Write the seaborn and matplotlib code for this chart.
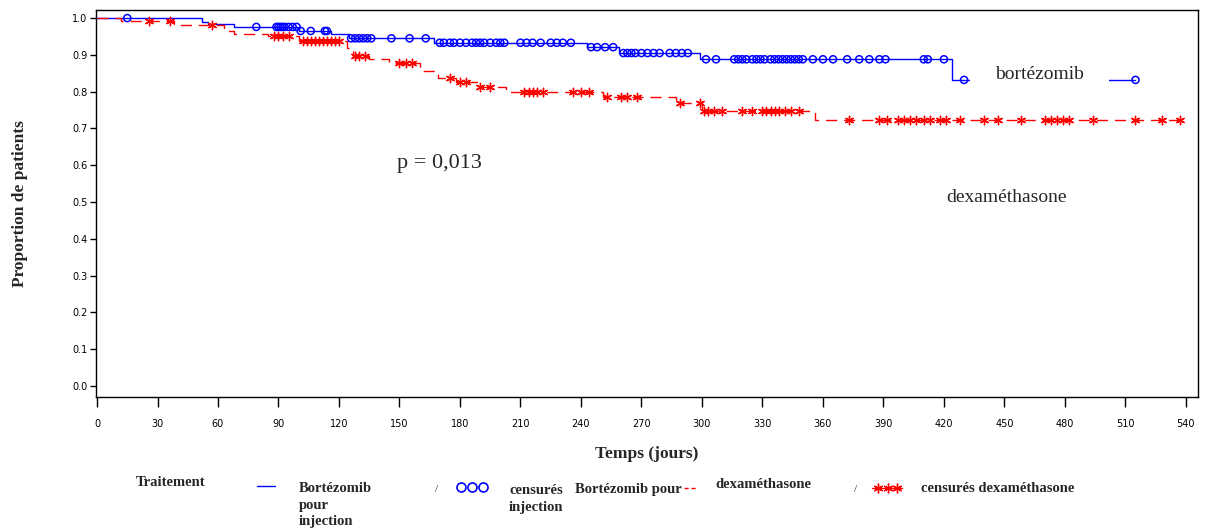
import numpy as np
import pandas as pd
import matplotlib
matplotlib.use("Agg")
import matplotlib.pyplot as plt
import seaborn as sns
from matplotlib.lines import Line2D

# ---- data ----
bort_times = [0, 52, 55, 68, 100, 116, 125, 167, 243, 259, 299, 424, 515]
bort_surv = [1.0, 0.99, 0.984, 0.976, 0.965, 0.956, 0.945, 0.933, 0.921, 0.905, 0.888, 0.832, 0.832]
bort_censor = [15, 79, 89, 90, 91, 92, 93, 95, 97, 99, 101, 106, 113, 114, 126, 128, 130, 132,
               134, 136, 146, 155, 163, 170, 172, 175, 177, 180, 183, 186, 188, 190, 192, 195,
               198, 200, 202, 210, 213, 216, 220, 225, 228, 231, 235, 245, 248, 252, 256, 261,
               263, 265, 267, 270, 273, 276, 279, 284, 287, 290, 293, 302, 307, 316, 318, 320,
               322, 325, 327, 329, 331, 334, 336, 338, 340, 342, 344, 346, 348, 350, 355, 360,
               365, 372, 378, 383, 388, 391, 410, 412, 420, 430, 515]

dexa_times = [0, 12, 38, 63, 68, 85, 100, 124, 127, 135, 145, 160, 169, 178, 189, 203, 251, 287,
              300, 356, 537]
dexa_surv = [1.0, 0.991, 0.981, 0.966, 0.958, 0.95, 0.937, 0.918, 0.897, 0.89, 0.877, 0.856,
             0.838, 0.825, 0.813, 0.80, 0.786, 0.769, 0.748, 0.722, 0.722]
dexa_censor = [26, 36, 57, 88, 90, 92, 95, 102, 104, 106, 108, 110, 112, 114, 116, 118, 120, 128,
               130, 133, 150, 153, 156, 175, 180, 183, 190, 195, 212, 214, 216, 218, 221, 236,
               240, 244, 253, 260, 263, 268, 289, 299, 301, 303, 306, 310, 320, 325, 330, 332,
               334, 336, 338, 341, 344, 348, 373, 388, 392, 397, 400, 403, 406, 410, 413, 418,
               421, 428, 440, 447, 458, 470, 473, 476, 479, 482, 494, 515, 528, 537]

x_ticks = list(range(0, 541, 30))
y_ticks = [0.0, 0.1, 0.2, 0.3, 0.4, 0.5, 0.6, 0.7, 0.8, 0.9, 1.0]

BLUE = "#0000FF"
RED = "#FF0000"

sns.set_style("ticks")
plt.rcParams["font.family"] = ["DejaVu Sans"]

fig = plt.figure(figsize=(12.11, 5.32), dpi=100)
ax = fig.add_axes([96 / 1211, 1 - 397 / 532, (1198 - 96) / 1211, (397 - 10) / 532])


def step_value(times, surv, t):
    i = np.searchsorted(np.asarray(times), t, side="right") - 1
    return np.asarray(surv)[max(i, 0)]


bort_df = pd.DataFrame({"t": bort_times, "s": bort_surv})
dexa_df = pd.DataFrame({"t": dexa_times, "s": dexa_surv})
bort_c = pd.DataFrame({"t": bort_censor,
                       "s": [step_value(bort_times, bort_surv, t) for t in bort_censor]})
dexa_c = pd.DataFrame({"t": dexa_censor,
                       "s": [step_value(dexa_times, dexa_surv, t) for t in dexa_censor]})

sns.lineplot(data=bort_df, x="t", y="s", ax=ax, color=BLUE, lw=1.0, drawstyle="steps-post",
             estimator=None, sort=False, zorder=2)
sns.lineplot(data=dexa_df, x="t", y="s", ax=ax, color=RED, lw=1.0, drawstyle="steps-post",
             estimator=None, sort=False, zorder=2, dashes=False)
ax.lines[-1].set_linestyle((0, (8, 5)))

sns.scatterplot(data=bort_c, x="t", y="s", ax=ax, marker="o", s=26, facecolors="none",
                edgecolor=BLUE, linewidth=1.1, zorder=5)
sns.scatterplot(data=dexa_c, x="t", y="s", ax=ax, marker=(6, 2, 0), s=36, color=RED,
                linewidth=1.0, zorder=5)

ax.set_xlim(-0.5, 546)
ax.set_ylim(-0.030, 1.022)
ax.set_xticks(x_ticks)
ax.set_xticklabels([str(v) for v in x_ticks], fontsize=7)
ax.set_yticks(y_ticks)
ax.set_yticklabels([f"{v:.1f}" for v in y_ticks], fontsize=7)
ax.tick_params(axis="x", length=7, width=1, pad=9, colors="black")
ax.tick_params(axis="y", length=4, width=1, pad=2, colors="black")
for sp in ax.spines.values():
    sp.set_visible(True)
    sp.set_color("black")
    sp.set_linewidth(1.0)

serif = ["Liberation Serif", "DejaVu Serif"]
ax.set_xlabel("Temps (jours)", fontsize=12.5, fontweight="bold", family=serif, labelpad=12)
ax.set_ylabel("Proportion de patients", fontsize=12.5, fontweight="bold", family=serif,
              labelpad=32)

ax.text(170, 0.606, "p = 0,013", fontsize=16, family=serif, ha="center", va="center")
ax.text(467.5, 0.848, "bortézomib", fontsize=14, family=serif, ha="center", va="center",
        zorder=3, bbox=dict(facecolor="white", edgecolor="none", boxstyle="square,pad=1.3"))
ax.text(451, 0.513, "dexaméthasone", fontsize=14, family=serif, ha="center", va="center")

# ---- bottom legend (as in reference) ----
W, H = 1211, 532


def fx(px):
    return px / W


def fy(py):
    return 1 - py / H


lk = dict(fontsize=10.5, fontweight="bold", family=serif, va="center", ha="left")
fig.text(fx(136), fy(483), "Traitement", **lk)
fig.add_artist(Line2D([fx(257), fx(275)], [fy(486), fy(486)], color=BLUE, lw=1.0))
fig.text(fx(299), fy(488), "Bortézomib", **lk)
fig.text(fx(299), fy(505), "pour", **lk)
fig.text(fx(299), fy(522), "injection", **lk)
fig.text(fx(435), fy(490), "/", fontsize=8, family=serif, va="center", ha="left")
for cx in (461, 472, 483):
    fig.add_artist(Line2D([fx(cx)], [fy(487)], marker="o", markersize=6.5, markerfacecolor="none",
                          markeredgecolor=BLUE, markeredgewidth=1.2, linestyle="none"))
fig.text(fx(509), fy(491), "censurés", **lk)
fig.text(fx(509), fy(508), "injection", **lk)
fig.text(fx(575), fy(489), "Bortézomib pour", **lk)
fig.add_artist(Line2D([fx(684), fx(697)], [fy(488), fy(488)], color=RED, lw=1.0,
                      linestyle=(0, (3, 2))))
fig.text(fx(715), fy(485), "dexaméthasone", **lk)
fig.text(fx(854), fy(490), "/", fontsize=8, family=serif, va="center", ha="left")
fig.add_artist(Line2D([fx(872), fx(902)], [fy(488), fy(488)], color=RED, lw=1.0))
for cx in (878, 888, 897):
    fig.add_artist(Line2D([fx(cx)], [fy(488)], marker=(6, 2, 0), markersize=7,
                          markeredgecolor=RED, color=RED, markeredgewidth=1.0, linestyle="none"))
fig.text(fx(921), fy(489), "censurés dexaméthasone", **lk)

fig.savefig("out.png", dpi=100, facecolor="white")
